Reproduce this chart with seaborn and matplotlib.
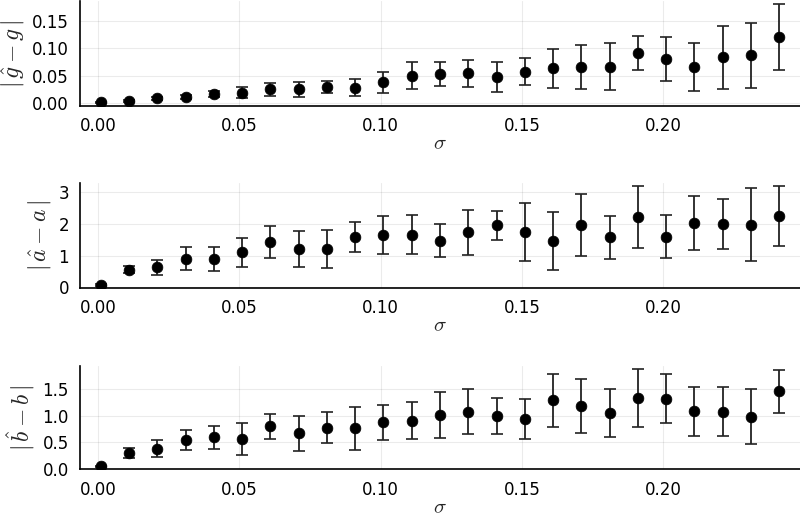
import matplotlib
matplotlib.use("Agg")
import matplotlib.pyplot as plt
import seaborn as sns
import pandas as pd
import numpy as np

# noise levels
sigma = [0.001, 0.011, 0.021, 0.031, 0.041, 0.051, 0.061, 0.071, 0.081, 0.091,
         0.101, 0.111, 0.121, 0.131, 0.141, 0.151, 0.161, 0.171, 0.181, 0.191,
         0.201, 0.211, 0.221, 0.231, 0.241]

# |g_hat - g|
g_mean = [0.001, 0.004, 0.0085, 0.011, 0.016, 0.019, 0.025, 0.025, 0.030, 0.028,
          0.038, 0.050, 0.053, 0.054, 0.047, 0.057, 0.063, 0.065, 0.066, 0.092,
          0.081, 0.066, 0.083, 0.087, 0.121]
g_err = [0.001, 0.002, 0.003, 0.004, 0.006, 0.010, 0.012, 0.014, 0.011, 0.016,
         0.019, 0.024, 0.022, 0.025, 0.027, 0.025, 0.035, 0.040, 0.043, 0.031,
         0.040, 0.044, 0.057, 0.059, 0.060]

# |a_hat - a|
a_mean = [0.08, 0.56, 0.625, 0.90, 0.90, 1.10, 1.43, 1.21, 1.20, 1.58,
          1.65, 1.66, 1.47, 1.73, 1.95, 1.74, 1.45, 1.95, 1.57, 2.22,
          1.59, 2.02, 2.00, 1.97, 2.25]
a_err = [0.03, 0.11, 0.23, 0.36, 0.38, 0.45, 0.50, 0.56, 0.59, 0.47,
         0.60, 0.625, 0.53, 0.71, 0.45, 0.92, 0.92, 0.97, 0.68, 0.98,
         0.68, 0.84, 0.78, 1.15, 0.95]

# |b_hat - b|
b_mean = [0.055, 0.30, 0.386, 0.545, 0.594, 0.563, 0.80, 0.67, 0.78, 0.765,
          0.876, 0.906, 1.017, 1.078, 0.998, 0.943, 1.292, 1.188, 1.053, 1.335,
          1.323, 1.084, 1.078, 0.986, 1.457]
b_err = [0.01, 0.10, 0.153, 0.18, 0.21, 0.30, 0.23, 0.33, 0.29, 0.41,
         0.33, 0.35, 0.43, 0.42, 0.34, 0.37, 0.50, 0.505, 0.45, 0.55,
         0.46, 0.46, 0.46, 0.52, 0.41]

ylabels = [r"$|\,\hat{g} - g\,|$", r"$|\,\hat{a} - a\,|$", r"$|\,\hat{b} - b\,|$"]
yticks = [[0.0, 0.05, 0.10, 0.15], [0, 1, 2, 3], [0.0, 0.5, 1.0, 1.5]]
yticklabels = [["0.00", "0.05", "0.10", "0.15"], ["0", "1", "2", "3"],
               ["0.0", "0.5", "1.0", "1.5"]]
ylims = [(-0.0055, 0.186), (-0.02, 3.28), (-0.006, 1.935)]

sns.set_style("white")
plt.rcParams["font.family"] = ["DejaVu Sans"]
plt.rcParams["mathtext.fontset"] = "cm"

fig = plt.figure(figsize=(8, 5.17), dpi=100)
boxes = [[0.1, 0.795, 0.9, 0.203],
         [0.1, 0.443, 0.9, 0.203],
         [0.1, 0.092, 0.9, 0.200]]

series = [(g_mean, g_err), (a_mean, a_err), (b_mean, b_err)]
for k, (m, e) in enumerate(series):
    ax = fig.add_axes(boxes[k])
    df = pd.DataFrame({"sigma": sigma, "value": m, "err": e})
    ax.errorbar(df["sigma"], df["value"], yerr=df["err"], fmt="none",
                ecolor="#222222", elinewidth=1.3, capsize=4, capthick=1.2, zorder=2)
    sns.scatterplot(data=df, x="sigma", y="value", ax=ax, color="black",
                    s=60, edgecolor="black", linewidth=0.5, zorder=3, legend=False)
    ax.set_xlim(-0.0064, 0.2484)
    ax.set_ylim(*ylims[k])
    ax.set_xticks([0.0, 0.05, 0.10, 0.15, 0.20])
    ax.set_xticklabels(["0.00", "0.05", "0.10", "0.15", "0.20"])
    ax.set_yticks(yticks[k])
    ax.set_yticklabels(yticklabels[k])
    ax.grid(True, color="#000000", alpha=0.08, linewidth=0.8)
    ax.tick_params(direction="in", length=4, width=1, labelsize=12,
                   colors="black", pad=8)
    for side in ["top", "right"]:
        ax.spines[side].set_visible(False)
    for side in ["left", "bottom"]:
        ax.spines[side].set_color("black")
        ax.spines[side].set_linewidth(1.2)
    ax.set_xlabel(r"$\sigma$", fontsize=15, labelpad=-1)
    ax.set_ylabel(ylabels[k], fontsize=17, labelpad=4)

fig.savefig("out.png", dpi=100)
